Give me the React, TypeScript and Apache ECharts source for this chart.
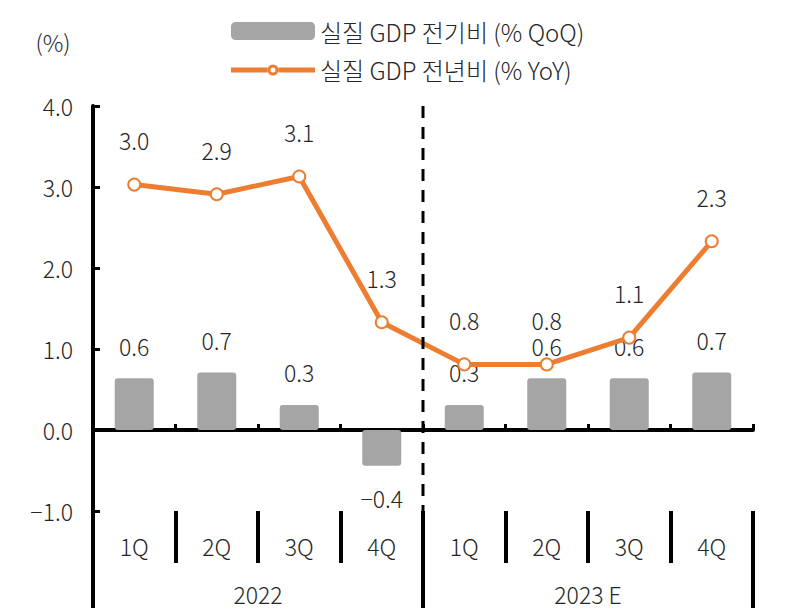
import React, { useEffect, useRef } from 'react';
import * as echarts from 'echarts';

const quarters = ['1Q', '2Q', '3Q', '4Q', '1Q', '2Q', '3Q', '4Q'];
const years = ['2022', '2023 E'];
const qoq = [0.64, 0.71, 0.31, -0.44, 0.31, 0.64, 0.64, 0.71];
const yoy = [3.03, 2.91, 3.13, 1.33, 0.81, 0.81, 1.14, 2.33];
const seriesNames = ['실질 GDP 전기비 (% QoQ)', '실질 GDP 전년비 (% YoY)'];
const unitLabel = '(%)';
const yMin = -1;
const yMax = 4;
const yInterval = 1;
const forecastStartIndex = 4;

const FONT = '"Noto Sans CJK KR", "Noto Sans", sans-serif';
const TEXT = '#262626';
const FS = 23;
const FW = 300;

const LINE_LEGEND_ICON =
  'path://M0 0 M84 18 M0 6.5 H36.5 V11.5 H0 Z M47.5 6.5 H84 V11.5 H47.5 Z ' +
  'M36.5 9 A5.5 5.5 0 1 1 47.5 9 A5.5 5.5 0 1 1 36.5 9 Z ' +
  'M39.5 9 A2.5 2.5 0 1 0 44.5 9 A2.5 2.5 0 1 0 39.5 9 Z';

export default function App() {
  const ref = useRef<HTMLDivElement>(null);
  useEffect(() => {
    if (!ref.current) return;
    const chart = echarts.init(ref.current, null, { renderer: 'svg' });
    const fmt = (v: any) => Number(v).toFixed(1).replace('-', '\u2212');
    const txt = { fontSize: FS, color: TEXT, fontFamily: FONT, fontWeight: FW };
    chart.setOption({
      animation: false,
      textStyle: { fontFamily: FONT },
      grid: { left: 93, right: 41, top: 106, bottom: 104, containLabel: false },
      legend: {
        orient: 'vertical',
        left: 231,
        top: 19,
        padding: 0,
        itemWidth: 84,
        itemHeight: 18,
        itemGap: 15,
        textStyle: { fontSize: 24, color: TEXT, fontFamily: FONT, fontWeight: FW },
        data: [
          { name: seriesNames[0], icon: 'roundRect' },
          {
            name: seriesNames[1],
            icon: LINE_LEGEND_ICON,
            itemStyle: { color: '#ed7d31', borderWidth: 0 },
          },
        ],
      },
      xAxis: [
        {
          type: 'category',
          data: quarters,
          position: 'bottom',
          axisLine: { onZero: true, lineStyle: { color: '#000', width: 4 } },
          axisTick: { show: true, inside: true, length: 6, lineStyle: { color: '#000', width: 3 } },
          axisLabel: { show: false },
          splitLine: { show: false },
        },
        {
          type: 'category',
          data: quarters,
          position: 'bottom',
          offset: 0,
          axisLine: { show: false, onZero: false },
          axisTick: { show: true, length: 52, lineStyle: { color: '#000', width: 4 } },
          axisLabel: { show: true, margin: 23, ...txt },
          splitLine: { show: false },
        },
        {
          type: 'category',
          data: years,
          position: 'bottom',
          offset: 0,
          axisLine: { show: false, onZero: false },
          axisTick: { show: true, length: 97, lineStyle: { color: '#000', width: 4 } },
          axisLabel: { show: true, margin: 71, ...txt },
          splitLine: { show: false },
        },
      ],
      yAxis: {
        type: 'value',
        min: yMin,
        max: yMax,
        interval: yInterval,
        axisLine: { show: true, lineStyle: { color: '#000', width: 4 } },
        axisTick: { show: true, inside: true, length: 7, lineStyle: { color: '#000', width: 3 } },
        axisLabel: { formatter: fmt, margin: 20, ...txt },
        splitLine: { show: false },
      },
      series: [
        {
          name: seriesNames[0],
          type: 'bar',
          xAxisIndex: 0,
          barWidth: 39,
          itemStyle: { color: '#a5a5a5', borderRadius: 3 },
          label: {
            show: true,
            position: 'top',
            distance: 21,
            ...txt,
            formatter: (p: any) => fmt(p.value),
          },
          data: qoq.map((v) => (v < 0 ? { value: v, label: { position: 'bottom' } } : v)),
          z: 2,
        },
        {
          name: seriesNames[1],
          type: 'line',
          xAxisIndex: 0,
          symbol: 'emptyCircle',
          symbolSize: 12,
          lineStyle: { color: '#ed7d31', width: 5 },
          itemStyle: { color: '#ed7d31', borderWidth: 3 },
          label: {
            show: true,
            position: 'top',
            distance: 26,
            ...txt,
            formatter: (p: any) => fmt(p.value),
          },
          data: yoy,
          z: 3,
        },
      ],
    });

    const x3 = chart.convertToPixel({ xAxisIndex: 0 }, forecastStartIndex - 1) as number;
    const x4 = chart.convertToPixel({ xAxisIndex: 0 }, forecastStartIndex) as number;
    const xb = (x3 + x4) / 2;
    const yTop = chart.convertToPixel({ yAxisIndex: 0 }, yMax) as number;
    const yBot = chart.convertToPixel({ yAxisIndex: 0 }, yMin) as number;
    chart.setOption({
      graphic: [
        {
          type: 'line',
          shape: { x1: xb, y1: yTop, x2: xb, y2: yBot },
          style: { stroke: '#000', lineWidth: 3, lineDash: [12, 9] },
          z: 10,
        },
        {
          type: 'text',
          x: 53,
          y: 42,
          style: {
            text: unitLabel,
            fontSize: FS,
            fontWeight: FW,
            fill: TEXT,
            fontFamily: FONT,
            textAlign: 'center',
            textVerticalAlign: 'middle',
          },
        },
      ],
    });

    return () => chart.dispose();
  }, []);
  return (
    <div
      ref={ref}
      style={{ position: 'fixed', left: 0, top: 0, width: 794, height: 615, background: '#fff' }}
    />
  );
}
